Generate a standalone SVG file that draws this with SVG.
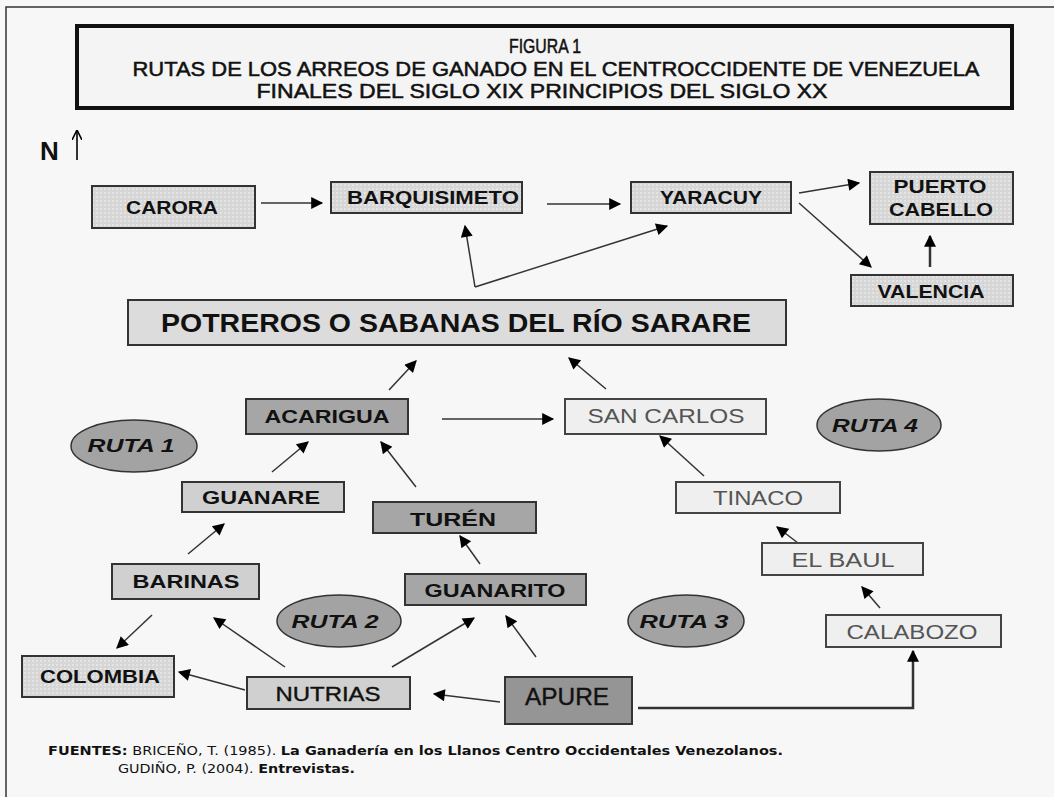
<svg xmlns="http://www.w3.org/2000/svg" width="1054" height="797" viewBox="0 0 1054 797">
<defs>
<style>
.bx{stroke:#333;stroke-width:2}
.pat{fill:url(#dots)}
.mid{fill:#d0d0d0}
.dark{fill:#a6a6a6}
.light{fill:#efefef;stroke:#444}
.pot{fill:#dcdcdc}
.t{font-family:"Liberation Sans",Arial,sans-serif;font-weight:bold;font-size:18px;fill:#111;text-anchor:middle}
.h{font-family:"Liberation Sans",Arial,sans-serif;font-weight:bold;font-size:20px;fill:#111;text-anchor:middle}
.g{font-family:"Liberation Sans",Arial,sans-serif;font-size:20px;fill:#555;text-anchor:middle}
.el{fill:#a3a3a3;stroke:#333;stroke-width:1.5}
.rt{font-family:"Liberation Sans",Arial,sans-serif;font-weight:bold;font-style:italic;font-size:18px;fill:#111;text-anchor:middle}
.c{fill:none;stroke:#333;stroke-width:1.5;marker-end:url(#ah)}
.src{font-family:"DejaVu Sans",Verdana,sans-serif;font-size:12px;fill:#111}
</style>
<pattern id="dots" width="4" height="4" patternUnits="userSpaceOnUse">
<rect width="4" height="4" fill="#d6d6d6"/>
<rect x="0" y="0" width="2" height="2" fill="#e4e4e4"/>
</pattern>
<marker id="ah" viewBox="0 0 10 10" refX="9" refY="5" markerWidth="15" markerHeight="12" markerUnits="userSpaceOnUse" orient="auto">
<path d="M0,0 L10,5 L0,10 z" fill="#000"/>
</marker>
<marker id="an" viewBox="0 0 10 10" refX="9" refY="5" markerWidth="10" markerHeight="10" markerUnits="userSpaceOnUse" orient="auto">
<path d="M0,0 L10,5 L0,10" fill="none" stroke="#000" stroke-width="1.6"/>
</marker>
</defs>
<rect width="1054" height="797" fill="#f7f7f7"/>
<path d="M6,797 V7 H1054" fill="none" stroke="#333" stroke-width="1.5"/>

<g id="title">
<rect x="77" y="26" width="935" height="82" fill="#f4f4f4" stroke="#111" stroke-width="4"/>
<text x="545" y="53" class="h" style="font-weight:normal;stroke:#111;stroke-width:0.5" textLength="72" lengthAdjust="spacingAndGlyphs">FIGURA 1</text>
<text x="556" y="76" class="h" style="font-weight:normal;stroke:#111;stroke-width:0.5" textLength="847" lengthAdjust="spacingAndGlyphs">RUTAS DE LOS ARREOS DE GANADO EN EL CENTROCCIDENTE DE VENEZUELA</text>
<text x="542" y="98" class="h" style="font-weight:normal;stroke:#111;stroke-width:0.5" textLength="571" lengthAdjust="spacingAndGlyphs">FINALES DEL SIGLO  XIX PRINCIPIOS DEL SIGLO XX</text>
</g>

<g id="north">
<text x="40" y="160" style="font-family:'Liberation Sans',Arial,sans-serif;font-weight:bold;font-size:26px;fill:#111">N</text>
<line x1="77" y1="160" x2="77" y2="131" stroke="#333" stroke-width="2" marker-end="url(#an)"/>
</g>

<g id="connectors">
<line class="c" x1="261" y1="203" x2="322" y2="203"/>
<line class="c" x1="547" y1="204" x2="620" y2="204"/>
<line class="c" x1="475" y1="287" x2="465" y2="226"/>
<line class="c" x1="475" y1="287" x2="667" y2="226"/>
<line class="c" x1="799" y1="193" x2="859" y2="183"/>
<line class="c" x1="799" y1="203" x2="871" y2="267"/>
<line class="c" x1="930" y1="267" x2="930" y2="236" style="stroke-width:2.5"/>
<line class="c" x1="389" y1="390" x2="416" y2="361"/>
<line class="c" x1="606" y1="389" x2="569" y2="358"/>
<line class="c" x1="442" y1="419" x2="553" y2="419"/>
<line class="c" x1="272" y1="472" x2="308" y2="442"/>
<line class="c" x1="416" y1="487" x2="381" y2="442"/>
<line class="c" x1="188" y1="554" x2="224" y2="524"/>
<line class="c" x1="480" y1="564" x2="460" y2="536"/>
<line class="c" x1="704" y1="476" x2="660" y2="436"/>
<line class="c" x1="798" y1="543" x2="777" y2="527"/>
<line class="c" x1="880" y1="608" x2="862" y2="587"/>
<polyline class="c" points="638,708 913,708 913,651" style="stroke-width:2.5"/>
<line class="c" x1="500" y1="702" x2="434" y2="694"/>
<line class="c" x1="536" y1="657" x2="506" y2="616"/>
<line class="c" x1="392" y1="667" x2="474" y2="618"/>
<line class="c" x1="285" y1="667" x2="214" y2="618"/>
<line class="c" x1="245" y1="690" x2="179" y2="672"/>
<line class="c" x1="152" y1="615" x2="117" y2="648"/>
</g>

<g id="carora"><rect class="bx pat" x="92" y="186" width="163" height="42"/><text class="t" x="172" y="214" textLength="92" lengthAdjust="spacingAndGlyphs">CARORA</text></g>
<g id="barquisimeto"><rect class="bx pat" x="331" y="182" width="191" height="31"/><text class="t" x="433" y="204" textLength="172" lengthAdjust="spacingAndGlyphs">BARQUISIMETO</text></g>
<g id="yaracuy"><rect class="bx pat" x="631" y="182" width="160" height="31"/><text class="t" x="711" y="204" textLength="102" lengthAdjust="spacingAndGlyphs">YARACUY</text></g>
<g id="puerto-cabello"><rect class="bx pat" x="870" y="172" width="143" height="52"/><text class="t" x="940" y="193" textLength="93" lengthAdjust="spacingAndGlyphs">PUERTO</text><text class="t" x="941" y="216" textLength="104" lengthAdjust="spacingAndGlyphs">CABELLO</text></g>
<g id="valencia"><rect class="bx pat" x="851" y="275" width="162" height="31"/><text class="t" x="931" y="298" textLength="107" lengthAdjust="spacingAndGlyphs">VALENCIA</text></g>
<g id="potreros"><rect class="bx pot" x="128" y="300" width="658" height="45"/><text class="t" x="456" y="332" style="font-size:25px" textLength="590" lengthAdjust="spacingAndGlyphs">POTREROS O SABANAS DEL RÍO  SARARE</text></g>
<g id="acarigua"><rect class="bx dark" x="246" y="399" width="162" height="35"/><text class="t" x="327" y="423" textLength="125" lengthAdjust="spacingAndGlyphs">ACARIGUA</text></g>
<g id="san-carlos"><rect class="bx light" x="565" y="399" width="201" height="35"/><text class="g" x="666" y="423" textLength="157" lengthAdjust="spacingAndGlyphs">SAN CARLOS</text></g>
<g id="ruta1"><ellipse class="el" cx="134" cy="446" rx="63" ry="26"/><text class="rt" x="131" y="452" textLength="87" lengthAdjust="spacingAndGlyphs">RUTA 1</text></g>
<g id="ruta4"><ellipse class="el" cx="879" cy="425" rx="62" ry="26"/><text class="rt" x="875" y="432" textLength="86" lengthAdjust="spacingAndGlyphs">RUTA 4</text></g>
<g id="guanare"><rect class="bx mid" x="182" y="482" width="162" height="30"/><text class="t" x="261" y="504" textLength="118" lengthAdjust="spacingAndGlyphs">GUANARE</text></g>
<g id="turen"><rect class="bx dark" x="373" y="502" width="163" height="31"/><text class="t" x="453" y="526" style="font-size:19px" textLength="86" lengthAdjust="spacingAndGlyphs">TURÉN</text></g>
<g id="tinaco"><rect class="bx light" x="676" y="482" width="164" height="31"/><text class="g" x="758" y="505" textLength="90" lengthAdjust="spacingAndGlyphs">TINACO</text></g>
<g id="el-baul"><rect class="bx light" x="762" y="543" width="161" height="32"/><text class="g" x="843" y="567" textLength="103" lengthAdjust="spacingAndGlyphs">EL BAUL</text></g>
<g id="barinas"><rect class="bx mid" x="112" y="564" width="147" height="35"/><text class="t" x="186" y="588" textLength="107" lengthAdjust="spacingAndGlyphs">BARINAS</text></g>
<g id="guanarito"><rect class="bx dark" x="405" y="574" width="181" height="31"/><text class="t" x="495" y="597" textLength="141" lengthAdjust="spacingAndGlyphs">GUANARITO</text></g>
<g id="ruta2"><ellipse class="el" cx="339" cy="621" rx="62" ry="26"/><text class="rt" x="335" y="628" textLength="87" lengthAdjust="spacingAndGlyphs">RUTA 2</text></g>
<g id="ruta3"><ellipse class="el" cx="686" cy="621" rx="58" ry="26"/><text class="rt" x="684" y="628" textLength="89" lengthAdjust="spacingAndGlyphs">RUTA 3</text></g>
<g id="calabozo"><rect class="bx light" x="826" y="615" width="175" height="32"/><text class="g" x="912" y="639" textLength="131" lengthAdjust="spacingAndGlyphs">CALABOZO</text></g>
<g id="colombia"><rect class="bx pat" x="22" y="656" width="152" height="41"/><text class="t" x="100" y="683" textLength="120" lengthAdjust="spacingAndGlyphs">COLOMBIA</text></g>
<g id="nutrias"><rect class="bx mid" x="247" y="677" width="163" height="32"/><text class="g" x="328" y="701" style="fill:#111;stroke:#111;stroke-width:0.4" textLength="105" lengthAdjust="spacingAndGlyphs">NUTRIAS</text></g>
<g id="apure"><rect class="bx" x="505" y="677" width="127" height="47" fill="#959595"/><text class="g" x="567" y="705" style="font-size:23px;fill:#111;stroke:#111;stroke-width:0.4" textLength="84" lengthAdjust="spacingAndGlyphs">APURE</text></g>

<g id="sources">
<text class="src" x="48" y="755" textLength="735" lengthAdjust="spacingAndGlyphs"><tspan font-weight="bold">FUENTES:</tspan> BRICEÑO, T. (1985). <tspan font-weight="bold">La Ganadería en los Llanos Centro Occidentales Venezolanos.</tspan></text>
<text class="src" x="118" y="773" textLength="237" lengthAdjust="spacingAndGlyphs">GUDIÑO, P. (2004). <tspan font-weight="bold">Entrevistas.</tspan></text>
</g>
</svg>
